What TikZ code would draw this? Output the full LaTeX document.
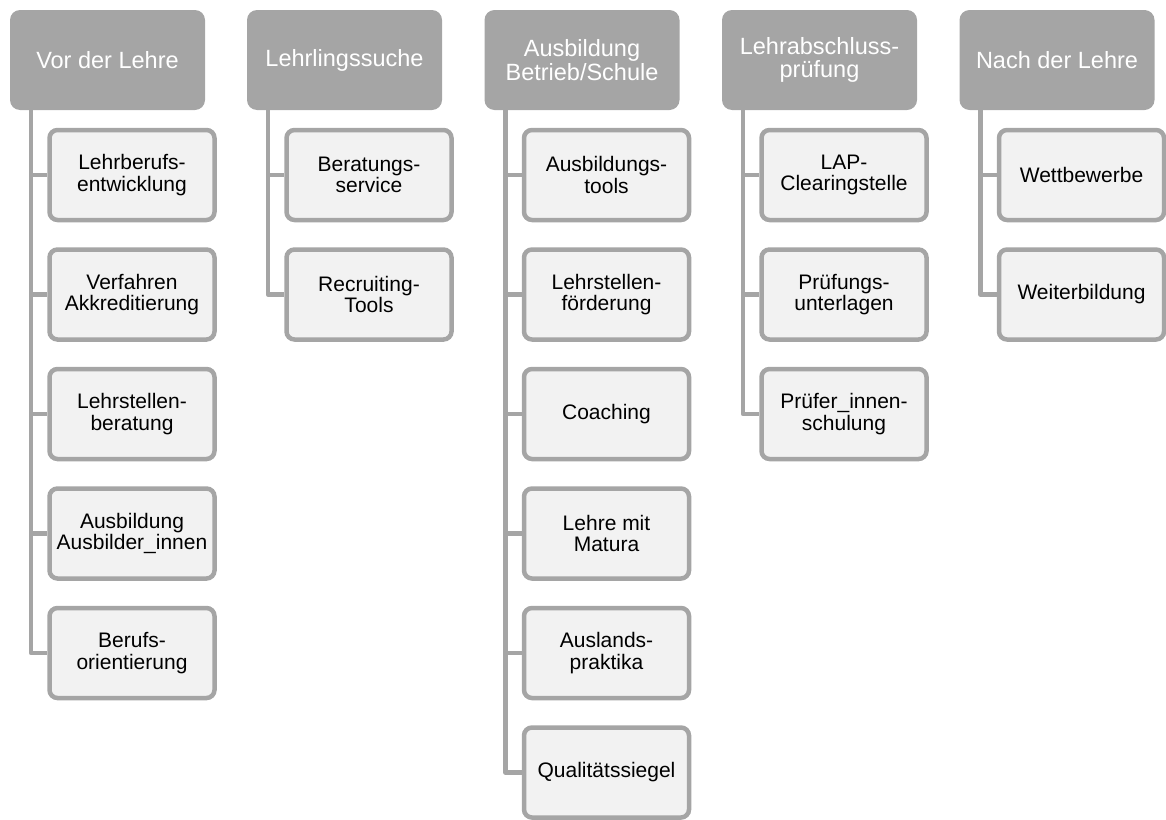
\documentclass[tikz,border=0pt]{standalone}
\usepackage{fontspec}
\setmainfont{Liberation Sans}
\definecolor{boxgray}{HTML}{A5A5A5}
\definecolor{cellfill}{HTML}{F2F2F2}

\begin{document}
\begin{tikzpicture}[x=1pt, y=-1pt,
    headnode/.style={rectangle, rounded corners=10pt, fill=boxgray, text=white, minimum width=195pt, minimum height=100pt, inner sep=2pt, align=center, font=\fontsize{23.5}{23.5}\selectfont},
    leafnode/.style={rectangle, rounded corners=8pt, draw=boxgray, fill=cellfill, line width=4.5pt, minimum width=165pt, minimum height=90pt, inner sep=2pt, align=center, font=\fontsize{21}{21.5}\selectfont},
    link/.style={draw=boxgray, line width=4.5pt, line join=round}
    ]
    \useasboundingbox (0,0) rectangle (1166,819);

    % headers
    \node [headnode] (h1) at (107.5, 60) {Vor der Lehre};
    \node [headnode] (h2) at (344.5, 60) {Lehrlingssuche};
    \node [headnode] (h3) at (582, 60) {Ausbildung\\Betrieb/Schule};
    \node [headnode] (h4) at (819.5, 60) {Lehrabschluss-\\prüfung};
    \node [headnode] (h5) at (1057, 60) {Nach der Lehre};

    % trunk tops
    \coordinate (t1) at (31, 110);
    \coordinate (t2) at (268, 110);
    \coordinate (t3) at (505.5, 110);
    \coordinate (t4) at (743, 110);
    \coordinate (t5) at (980.5, 110);

    \node [leafnode] (a1) at (132, 175) {Lehrberufs-\\entwicklung};
    \node [leafnode] (a2) at (132, 294.5) {Verfahren\\Akkreditierung};
    \node [leafnode] (a3) at (132, 414) {Lehrstellen-\\beratung};
    \node [leafnode] (a4) at (132, 533.5) {Ausbildung\\Ausbilder\_innen};
    \node [leafnode] (a5) at (132, 653) {Berufs-\\orientierung};

    \node [leafnode] (b1) at (369, 175) {Beratungs-\\service};
    \node [leafnode] (b2) at (369, 294.5) {Recruiting-\\Tools};

    \node [leafnode] (c1) at (606.5, 175) {Ausbildungs-\\tools};
    \node [leafnode] (c2) at (606.5, 294.5) {Lehrstellen-\\förderung};
    \node [leafnode] (c3) at (606.5, 414) {Coaching};
    \node [leafnode] (c4) at (606.5, 533.5) {Lehre mit\\Matura};
    \node [leafnode] (c5) at (606.5, 653) {Auslands-\\praktika};
    \node [leafnode] (c6) at (606.5, 772.5) {Qualitätssiegel};

    \node [leafnode] (d1) at (844, 175) {LAP-\\Clearingstelle};
    \node [leafnode] (d2) at (844, 294.5) {Prüfungs-\\unterlagen};
    \node [leafnode] (d3) at (844, 414) {Prüfer\_innen-\\schulung};

    \node [leafnode] (e1) at (1081.5, 175) {Wettbewerbe};
    \node [leafnode] (e2) at (1081.5, 294.5) {Weiterbildung};

    \draw [link] (t1) |- (a1.west);
    \draw [link] (t1) |- (a2.west);
    \draw [link] (t1) |- (a3.west);
    \draw [link] (t1) |- (a4.west);
    \draw [link] (t1) |- (a5.west);

    \draw [link] (t2) |- (b1.west);
    \draw [link] (t2) |- (b2.west);

    \draw [link] (t3) |- (c1.west);
    \draw [link] (t3) |- (c2.west);
    \draw [link] (t3) |- (c3.west);
    \draw [link] (t3) |- (c4.west);
    \draw [link] (t3) |- (c5.west);
    \draw [link] (t3) |- (c6.west);

    \draw [link] (t4) |- (d1.west);
    \draw [link] (t4) |- (d2.west);
    \draw [link] (t4) |- (d3.west);

    \draw [link] (t5) |- (e1.west);
    \draw [link] (t5) |- (e2.west);
\end{tikzpicture}
\end{document}
